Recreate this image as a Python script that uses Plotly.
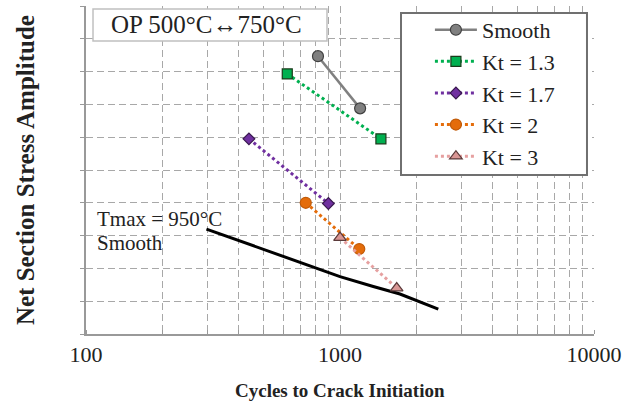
import plotly.graph_objects as go

# Cycles to crack initiation and net-section stress amplitude (relative units)
smooth_n = [819, 1200]
smooth_s = [8.47, 6.88]
kt13_n = [620, 1449]
kt13_s = [7.93, 5.95]
kt17_n = [438, 900]
kt17_s = [5.95, 3.98]
kt2_n = [733, 1191]
kt2_s = [4.00, 2.59]
kt3_n = [1000, 1672]
kt3_s = [2.94, 1.40]
tmax_n = [298, 514, 762, 1000, 1352, 1722, 2438]
tmax_s = [3.20, 2.55, 2.06, 1.75, 1.45, 1.22, 0.76]

x_ticks = [100, 1000, 10000]
x_ticklabels = ["100", "1000", "10000"]

SERIF = "Liberation Serif, Times New Roman, serif"
TXT = "#222"

fig = go.Figure()

fig.add_trace(go.Scatter(
    x=tmax_n, y=tmax_s, mode="lines", showlegend=False,
    line=dict(color="black", width=3)))

series = [
    ("Smooth", smooth_n, smooth_s, "#808080", "solid", "circle", 11, "#404040"),
    ("Kt = 1.3", kt13_n, kt13_s, "#00b050", "dot", "square", 10, "#1a3a1a"),
    ("Kt = 1.7", kt17_n, kt17_s, "#7030a0", "dot", "diamond", 9, "#3a1a50"),
    ("Kt = 2", kt2_n, kt2_s, "#e46c0a", "dot", "circle", 11, "#c05a08"),
    ("Kt = 3", kt3_n, kt3_s, "#e6a0a0", "dot", "triangle-up", 11, "#5a3a3a"),
]
for name, xs, ys, col, dash, sym, size, edge in series:
    fill = "#d99694" if name == "Kt = 3" else col
    fig.add_trace(go.Scatter(
        x=xs, y=ys, mode="lines+markers", name=name, legendgroup=name,
        line=dict(color=col, width=2.5 if dash == "solid" else 3, dash=dash),
        marker=dict(symbol=sym, size=size, color=fill,
                    line=dict(color=edge, width=1.2))))

grid_col = "#a8a8a8"
grid_dash = "7px,4px"

fig.update_xaxes(
    type="log", range=[2, 4],
    tickvals=x_ticks, ticktext=x_ticklabels,
    tickfont=dict(family=SERIF, size=22, color=TXT),
    showgrid=True, gridcolor=grid_col, griddash=grid_dash, gridwidth=1,
    minor=dict(dtick="D1", showgrid=True, gridcolor=grid_col,
               griddash=grid_dash, ticks="inside", ticklen=4,
               tickcolor="#999"),
    showline=True, linecolor="#999", linewidth=2,
    ticks="", zeroline=False)

fig.update_yaxes(
    range=[0, 10], dtick=1, showticklabels=False,
    showgrid=True, gridcolor=grid_col, griddash=grid_dash, gridwidth=1,
    showline=True, linecolor="#999", linewidth=2,
    ticks="outside", ticklen=4, tickcolor="#999", zeroline=False)

# frames for the condition label and the legend
fig.add_shape(type="rect", xref="paper", yref="paper",
              x0=0.0138, x1=0.4744, y0=0.893, y1=0.991,
              line=dict(color="#c0c0c0", width=1.5), fillcolor="white",
              layer="above")
fig.add_shape(type="rect", xref="paper", yref="paper",
              x0=0.6201, x1=0.9862, y0=0.4848, y1=0.9787,
              line=dict(color="#707070", width=2), fillcolor="white",
              layer="above")

fig.update_layout(
    width=632, height=401,
    margin=dict(l=86, r=38, t=6, b=67),
    plot_bgcolor="white", paper_bgcolor="white",
    font=dict(family=SERIF, color=TXT),
    legend=dict(
        x=0.677, y=0.991, xanchor="left", yanchor="top",
        bgcolor="rgba(0,0,0,0)", borderwidth=0,
        font=dict(family=SERIF, size=22, color=TXT),
        itemwidth=42, tracegroupgap=0),
    annotations=[
        dict(text="OP 500°C↔750°C", xref="paper", yref="paper",
             x=0.238, y=0.945, xanchor="center", yanchor="middle",
             showarrow=False, font=dict(family=SERIF, size=25, color=TXT)),
        dict(text="Tmax = 950°C", xref="paper", yref="paper",
             x=0.018, y=0.3506, xanchor="left", yanchor="middle",
             showarrow=False, font=dict(family=SERIF, size=21, color=TXT)),
        dict(text="Smooth", xref="paper", yref="paper",
             x=0.018, y=0.2774, xanchor="left", yanchor="middle",
             showarrow=False, font=dict(family=SERIF, size=21, color=TXT)),
        dict(text="<b>Cycles to Crack Initiation</b>", xref="paper",
             yref="paper", x=0.5, y=-0.172, xanchor="center",
             yanchor="middle", showarrow=False,
             font=dict(family=SERIF, size=19, color=TXT)),
        dict(text="<b>Net Section Stress Amplitude</b>", xref="paper",
             yref="paper", x=-0.12, y=0.5, xanchor="center",
             yanchor="middle", textangle=-90, showarrow=False,
             font=dict(family=SERIF, size=25, color=TXT)),
    ])

fig.write_html("out.html")
